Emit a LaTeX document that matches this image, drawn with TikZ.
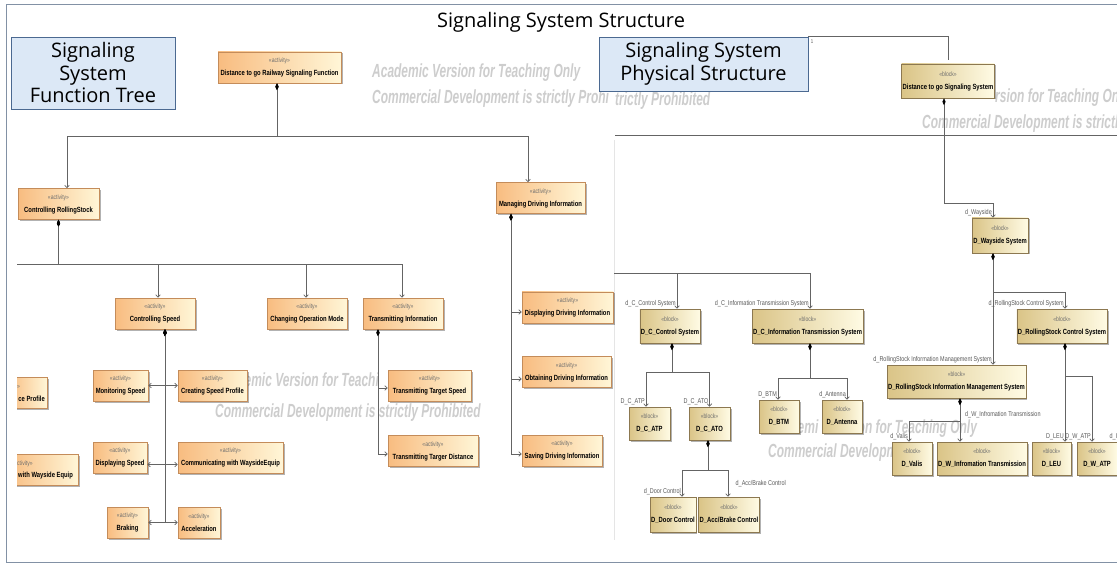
\documentclass[tikz,border=0pt]{standalone}
\usepackage{fontspec}
\setmainfont{Liberation Sans}
\newfontfamily\ttlfont{Open Sans}
\newfontfamily\nrw[FakeStretch=0.78]{Liberation Sans}
\newfontfamily\wmk[FakeStretch=0.63]{Liberation Sans}
\usetikzlibrary{arrows.meta,shadows}
\definecolor{actL}{RGB}{248,188,128}
\definecolor{actR}{RGB}{255,246,215}
\definecolor{actB}{RGB}{196,140,90}
\definecolor{blkL}{RGB}{218,196,135}
\definecolor{blkR}{RGB}{255,251,228}
\definecolor{blkB}{RGB}{140,120,80}
\definecolor{lncol}{RGB}{100,100,100}
\definecolor{labcol}{RGB}{90,90,90}
\definecolor{stcol}{RGB}{110,110,110}
\definecolor{wmcol}{RGB}{205,205,205}
\definecolor{ttlfill}{RGB}{220,232,246}
\definecolor{ttlbord}{RGB}{75,105,145}
\definecolor{frmcol}{RGB}{130,145,165}
\newcommand{\umlst}[1]{{\nrw\fontsize{6.5}{7}\selectfont\color{stcol}#1}}
\newcommand{\umlnm}[1]{{\nrw\bfseries\fontsize{7.5}{8}\selectfont #1}}
\begin{document}
\begin{tikzpicture}[x=1pt,y=-1pt,
  uml/.style={rectangle, draw=#1, line width=0.5pt, inner sep=1pt, align=center,
     drop shadow={shadow xshift=1.5pt, shadow yshift=-1.5pt, fill=black, opacity=0.3}},
  act/.style={uml=actB, left color=actL, right color=actR, minimum height=31pt},
  blk/.style={uml=blkB, left color=blkL, right color=blkR, minimum height=34pt},
  conn/.style={draw=lncol, line width=0.7pt},
  comp/.style={conn, {Diamond[length=7pt,width=3.2pt,color=black]}-{Straight Barb[length=2.5pt,width=4.5pt]}},
  toarr/.style={conn, -{Straight Barb[length=2.5pt,width=4.5pt]}},
  lbl/.style={inner sep=0.5pt, font=\nrw\fontsize{7}{8}\selectfont, text=labcol},
  wm/.style={inner sep=0, anchor=base west, font=\wmk\bfseries\itshape\fontsize{19}{21}\selectfont, text=wmcol},
  ttlbox/.style={draw=ttlbord, fill=ttlfill, line width=0.7pt, align=center, font=\ttlfont\fontsize{20}{22.5}\selectfont, inner sep=0},
]
\useasboundingbox (0,0) rectangle (1117,564);
\fill[white] (0,0) rectangle (1117,564);
% frame
\draw[frmcol, line width=1pt] (1117,5) -- (6,5) -- (6,562) -- (1117,562);
% watermarks
\node[wm] (wa1) at (372,78) {Academic Version for Teaching Only};
\node[wm] (wa2) at (372,104) {Commercial Development is strictly Prohi};
\node[wm] (wb2) at (615,106) {trictly Prohibited};
\node[wm] (wc1) at (995,103) {rsion for Teaching Only};
\node[wm] (wc2) at (922,129) {Commercial Development is strictly};
\node[wm] (wd1) at (244.5,386) {emic Version for Teachi};
\node[wm] (wd2) at (215,417) {Commercial Development is strictly Prohibited};
\node[wm] (we1) at (797.5,433) {emi};
\node[wm] (we1b) at (857.5,433) {on for Teaching Only};
\node[wm] (we2) at (768,457) {Commercial Developm};
\draw[black!10, line width=0.6pt] (614,140) -- (614,540);
% titles
\node[inner sep=0, anchor=base, font=\ttlfont\fontsize{20}{24}\selectfont] (title) at (561,28) {Signaling System Structure};
\node[ttlbox, minimum width=164pt, minimum height=72pt] (ft) at (93,73) {Signaling\\System\\Function Tree};
\node[ttlbox, minimum width=209pt, minimum height=54pt] (ps) at (703.5,64) {Signaling System\\Physical Structure};
\node[lbl, font=\nrw\fontsize{5.5}{6}\selectfont] (mult) at (812,42) {1};
% cut-off boxes
\begin{scope}
  \clip (17,0) rectangle (200,564);
  \node[act, minimum width=40pt] (cuta) at (27,392.5) {};
  \node[act, minimum width=71pt] (cutb) at (42.5,469.5) {};
\end{scope}
\node[anchor=west, inner sep=0] (cutas) at (17,387) {\umlst{»}};
\node[anchor=east, inner sep=0] (cutan) at (45,399) {\umlnm{ce Profile}};
\node[anchor=west, inner sep=0] (cutbs) at (17,464) {\umlst{ctivity»}};
\node[anchor=west, inner sep=0] (cutbn) at (18,476) {\umlnm{with Wayside Equip}};
% activities
\node[act, minimum width=123pt] (dgr) at (279.5,67.5) {\umlst{«activity»}\\[1pt]\umlnm{Distance to go Railway Signaling Function}};
\node[act, minimum width=81pt] (crs) at (58.5,204) {\umlst{«activity»}\\[1pt]\umlnm{Controlling RollingStock}};
\node[act, minimum width=89pt] (mdi) at (540.5,198) {\umlst{«activity»}\\[1pt]\umlnm{Managing Driving Information}};
\node[act, minimum width=80pt] (csp) at (155,313.5) {\umlst{«activity»}\\[1pt]\umlnm{Controlling Speed}};
\node[act, minimum width=80pt] (com) at (307,313.5) {\umlst{«activity»}\\[1pt]\umlnm{Changing Operation Mode}};
\node[act, minimum width=80pt] (tri) at (403,313.5) {\umlst{«activity»}\\[1pt]\umlnm{Transmitting Information}};
\node[act, minimum width=55pt] (mos) at (120.5,385.5) {\umlst{«activity»}\\[1pt]\umlnm{Monitoring Speed}};
\node[act, minimum width=69pt] (csprof) at (212.5,385.5) {\umlst{«activity»}\\[1pt]\umlnm{Creating Speed Profile}};
\node[act, minimum width=54pt] (dsp) at (120,457.5) {\umlst{«activity»}\\[1pt]\umlnm{Displaying Speed}};
\node[act, minimum width=105pt] (cwe) at (230.5,457.5) {\umlst{«activity»}\\[1pt]\umlnm{Communicating with WaysideEquip}};
\node[act, minimum width=41pt] (brk) at (127.5,522.5) {\umlst{«activity»}\\[1pt]\umlnm{Braking}};
\node[act, minimum width=42pt] (acc) at (199,522.5) {\umlst{«activity»}\\[1pt]\umlnm{Acceleration}};
\node[act, minimum width=83pt] (tts) at (429.5,385.5) {\umlst{«activity»}\\[1pt]\umlnm{Transmitting Target Speed}};
\node[act, minimum width=90pt] (ttd) at (433,451) {\umlst{«activity»}\\[1pt]\umlnm{Transmitting Targer Distance}};
\node[act, minimum width=91pt] (ddi) at (567.5,307.5) {\umlst{«activity»}\\[1pt]\umlnm{Displaying Driving Information}};
\node[act, minimum width=89pt] (odi) at (566.5,372) {\umlst{«activity»}\\[1pt]\umlnm{Obtaining Driving Information}};
\node[act, minimum width=80pt] (sdi) at (562,450.5) {\umlst{«activity»}\\[1pt]\umlnm{Saving Driving Information}};
% blocks
\node[blk, minimum width=92pt] (dgs) at (948,81) {\umlst{«block»}\\[1pt]\umlnm{Distance to go Signaling System}};
\node[blk, minimum width=56pt, minimum height=35pt] (ws) at (1000,235.5) {\umlst{«block»}\\[1pt]\umlnm{D\_Wayside System}};
\node[blk, minimum width=90pt] (rcs) at (1062,326) {\umlst{«block»}\\[1pt]\umlnm{D\_RollingStock Control System}};
\node[blk, minimum width=137pt, minimum height=33pt] (rim) at (956.5,381.5) {\umlst{«block»}\\[1pt]\umlnm{D\_RollingStock Information Management System}};
\node[blk, minimum width=40pt, minimum height=33pt] (valis) at (912,458.5) {\umlst{«block»}\\[1pt]\umlnm{D\_Valis}};
\node[blk, minimum width=90pt, minimum height=33pt] (wit) at (982,458.5) {\umlst{«block»}\\[1pt]\umlnm{D\_W\_Infromation Transmission}};
\node[blk, minimum width=39pt, minimum height=33pt] (leu) at (1051.5,458.5) {\umlst{«block»}\\[1pt]\umlnm{D\_LEU}};
\node[blk, minimum width=40pt, minimum height=33pt] (watp) at (1097,458.5) {\umlst{«block»}\\[1pt]\umlnm{D\_W\_ATP}};
\node[blk, minimum width=60pt] (ccs) at (670,326) {\umlst{«block»}\\[1pt]\umlnm{D\_C\_Control System}};
\node[blk, minimum width=111pt] (cits) at (807.5,326) {\umlst{«block»}\\[1pt]\umlnm{D\_C\_Information Transmission System}};
\node[blk, minimum width=41pt, minimum height=33pt] (catp) at (649.5,423.5) {\umlst{«block»}\\[1pt]\umlnm{D\_C\_ATP}};
\node[blk, minimum width=41pt, minimum height=33pt] (cato) at (709.5,423.5) {\umlst{«block»}\\[1pt]\umlnm{D\_C\_ATO}};
\node[blk, minimum width=44pt, minimum height=35pt] (door) at (673,514.5) {\umlst{«block»}\\[1pt]\umlnm{D\_Door Control}};
\node[blk, minimum width=60pt, minimum height=35pt] (accb) at (729,514.5) {\umlst{«block»}\\[1pt]\umlnm{D\_Acc/Brake Control}};
\node[blk, minimum width=40pt, minimum height=33pt] (btm) at (779,416.5) {\umlst{«block»}\\[1pt]\umlnm{D\_BTM}};
\node[blk, minimum width=40pt, minimum height=33pt] (ant) at (842,416.5) {\umlst{«block»}\\[1pt]\umlnm{D\_Antenna}};
% left connectors
\draw[comp] ([xshift=-2.5pt]dgr.south) -- ++(0,53) -| ([xshift=8.5pt]crs.north);
\draw[comp] ([xshift=-2.5pt]dgr.south) -- ++(0,53) -| ([xshift=-12.5pt]mdi.north);
\coordinate (lfree) at (17,264);
\draw[conn] (lfree) -- (crs.south |- lfree);
\draw[comp] (crs.south) -- ++(0,44.5) -| ([xshift=3pt]csp.north);
\draw[comp] (crs.south) -- ++(0,44.5) -| ([xshift=-1pt]com.north);
\draw[comp] (crs.south) -- ++(0,44.5) -| ([xshift=-1pt]tri.north);
\draw[comp] ([xshift=10pt]csp.south) |- (mos.east);
\draw[comp] ([xshift=10pt]csp.south) |- (csprof.west);
\draw[comp] ([xshift=10pt]csp.south) |- ([yshift=-7pt]dsp.east);
\draw[comp] ([xshift=10pt]csp.south) |- ([yshift=-7pt]cwe.west);
\draw[comp] ([xshift=10pt]csp.south) |- (brk.east);
\draw[comp] ([xshift=10pt]csp.south) |- (acc.west);
\draw[comp] ([xshift=-25pt]tri.south) |- ([yshift=-2.5pt]tts.west);
\draw[comp] ([xshift=-25pt]tri.south) |- ([yshift=-3pt]ttd.west);
\draw[comp] ([xshift=-29.5pt]mdi.south) |- ([yshift=-4.5pt]ddi.west);
\draw[comp] ([xshift=-29.5pt]mdi.south) |- ([yshift=-7pt]odi.west);
\draw[comp] ([xshift=-29.5pt]mdi.south) |- ([yshift=-3.5pt]sdi.west);
% right connectors
\draw[conn] (ps.north east) -| ([yshift=4pt]dgs.north);
\coordinate (rl1) at (615,135);
\coordinate (rl2) at (1117,135);
\draw[conn] (rl1) -- (rl2);
\draw[comp] ([xshift=-4pt]dgs.south) -- ++(0,105) -| ([xshift=-7pt]ws.north);
\draw[comp] ([xshift=-7pt]ws.south) -- ++(0,39) -| ([xshift=3pt]rcs.north);
\draw[comp] ([xshift=-7pt]ws.south) -- ([xshift=36.5pt]rim.north);
\draw[comp] ([xshift=3pt]rcs.south) -- ([xshift=13.5pt]leu.north);
\draw[comp] ([xshift=3pt]rcs.south) -- ++(0,33) -| ([xshift=-5pt]watp.north);
\draw[comp] ([xshift=3.5pt]rim.south) -- ([xshift=-22pt]wit.north);
\draw[comp] ([xshift=3.5pt]rim.south) -- ++(0,23) -| ([xshift=-3pt]valis.north);
\coordinate (rfree) at (614,273);
\draw[toarr] (rfree) -| ([xshift=7pt]ccs.north);
\draw[toarr] (rfree) -| ([xshift=2.5pt]cits.north);
\draw[comp] ([xshift=2pt]ccs.south) -- ++(0,29) -| ([xshift=-3.5pt]catp.north);
\draw[comp] ([xshift=2pt]ccs.south) -- ++(0,29) -| (cato.north);
\draw[comp] ([xshift=-1.5pt]cato.south) -- ++(0,30) -| ([xshift=9pt]door.north);
\draw[comp] ([xshift=-1.5pt]cato.south) -- ++(0,30) -| ([xshift=-1pt]accb.north);
\draw[comp] ([xshift=2.5pt]cits.south) -- ++(0,35) -| ([xshift=-1pt]btm.north);
\draw[comp] ([xshift=2.5pt]cits.south) -- ++(0,35) -| ([xshift=5pt]ant.north);
% labels
\node[lbl, anchor=south east] (l1) at ([xshift=-7.5pt,yshift=1pt]ws.north) {d\_Wayside};
\node[lbl, anchor=south east] (l2) at ([xshift=2.5pt,yshift=1pt]rcs.north) {d\_RollingStock Control System};
\node[lbl, anchor=south east] (l3) at ([xshift=36pt,yshift=1pt]rim.north) {d\_RollingStock Information Management System};
\node[lbl, anchor=south east] (l4) at ([xshift=13pt,yshift=1pt]leu.north) {D\_LEU};
\node[lbl, anchor=south east] (l5) at ([xshift=-5.5pt,yshift=1pt]watp.north) {D\_W\_ATP};
\node[lbl, anchor=south west] (l6) at (1109,441) {d\_I};
\node[lbl, anchor=west] (l7) at ([xshift=8pt,yshift=-16pt]rim.south) {d\_W\_Infromation Transmission};
\node[lbl, anchor=south east] (l8) at ([xshift=-3.5pt,yshift=1pt]valis.north) {d\_Valis};
\node[lbl, anchor=south east] (l9) at ([xshift=6.5pt,yshift=1pt]ccs.north) {d\_C\_Control System};
\node[lbl, anchor=south east] (l10) at ([xshift=2pt,yshift=1pt]cits.north) {d\_C\_Information Transmission System};
\node[lbl, anchor=south east] (l11) at ([xshift=-4pt,yshift=1pt]catp.north) {D\_C\_ATP};
\node[lbl, anchor=south east] (l12) at ([xshift=-0.5pt,yshift=1pt]cato.north) {D\_C\_ATO};
\node[lbl, anchor=south east] (l13) at ([xshift=8.5pt,yshift=1pt]door.north) {d\_Door Control};
\node[lbl, anchor=west] (l14) at ([xshift=6pt,yshift=13pt]accb.north) {d\_Acc/Brake Control};
\node[lbl, anchor=south east] (l15) at ([xshift=-1.5pt,yshift=1pt]btm.north) {D\_BTM};
\node[lbl, anchor=south east] (l16) at ([xshift=4.5pt,yshift=1pt]ant.north) {d\_Antenna};
\end{tikzpicture}
\end{document}
